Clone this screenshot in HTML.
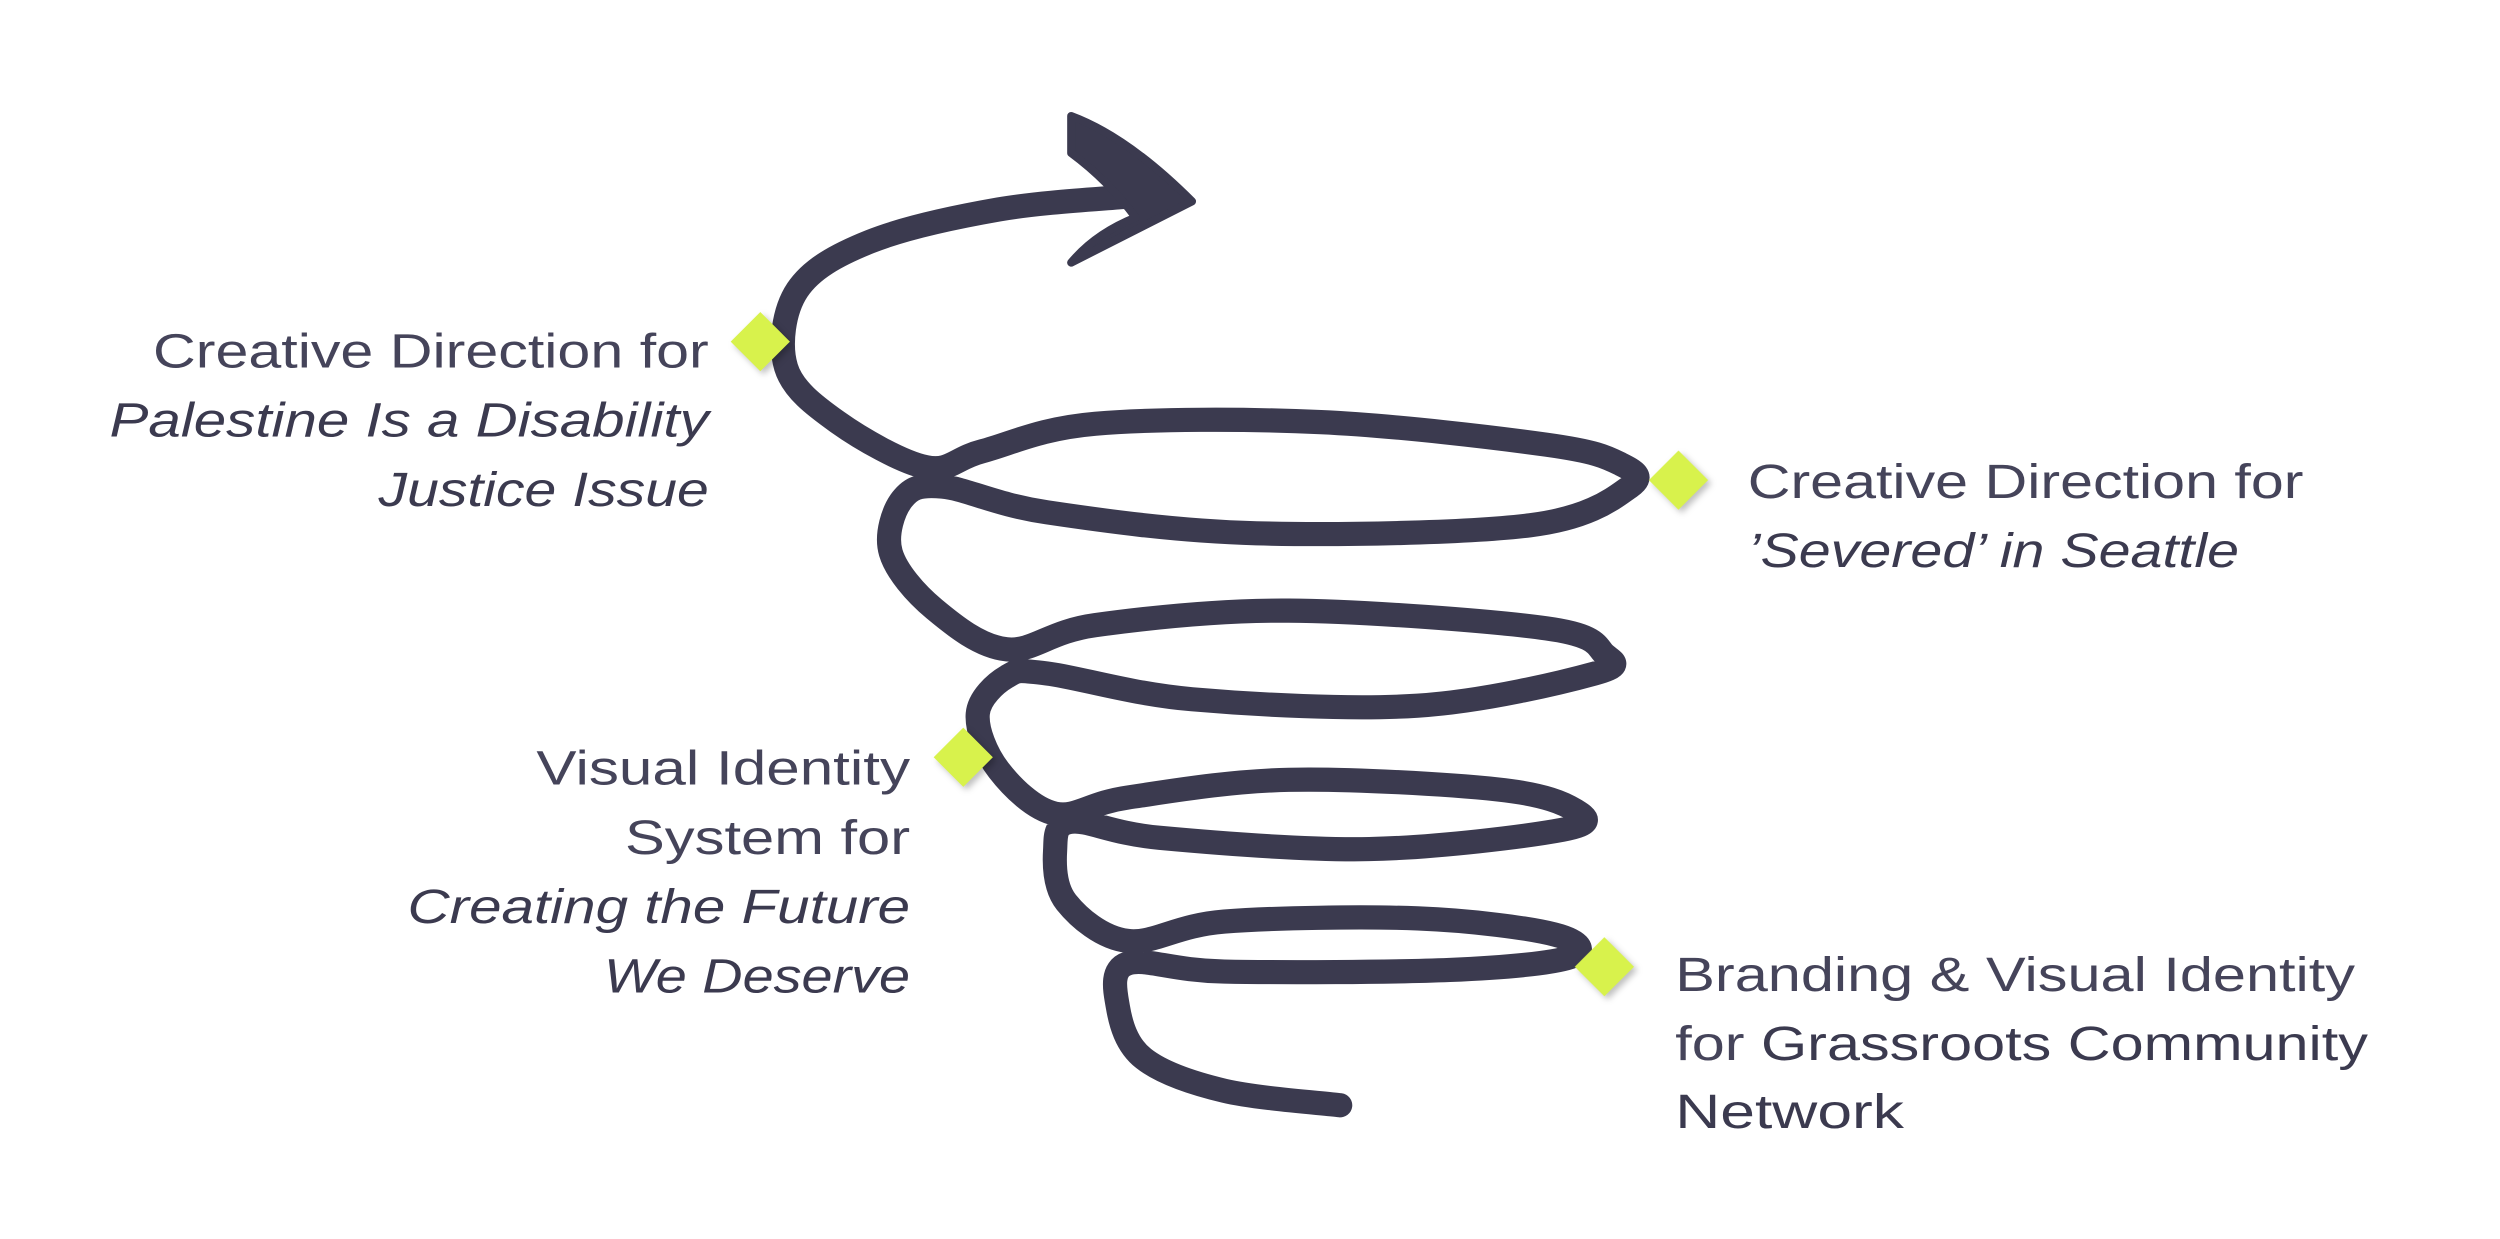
<!DOCTYPE html>
<html><head><meta charset="utf-8"><style>
html,body{margin:0;padding:0;background:#fff;}
svg{display:block;}
text{font-family:"Liberation Sans",sans-serif;fill:#3b3a4f;font-size:30px;}
.l{font-weight:300;fill:#45445a;}
.i{font-style:italic;}
</style></head><body>
<svg width="2500" height="1239" viewBox="0 0 1552 769" preserveAspectRatio="none" xmlns="http://www.w3.org/2000/svg">
<path id="sp" fill="none" stroke="#3b3a4f" stroke-width="15" stroke-linecap="round" stroke-linejoin="round" d=""/>
<path d="M665,72 Q700,85 740,125 L665,163 Q680,145 705,135 Q688,112 665,95 Z" fill="#3b3a4f" stroke="#3b3a4f" stroke-width="5" stroke-linejoin="round"/>
<g fill="#d8f24c" style="filter:drop-shadow(2px 2px 2px rgba(0,0,0,0.25))">
<rect x="459" y="199" width="26" height="26" transform="rotate(45 472 212)"/>
<rect x="1029" y="285" width="26" height="26" transform="rotate(45 1042 298)"/>
<rect x="585" y="457" width="26" height="26" transform="rotate(45 598 470)"/>
<rect x="983" y="587" width="26" height="26" transform="rotate(45 996 600)"/>
</g>
<g text-anchor="end" lengthAdjust="spacingAndGlyphs">
<text x="440" y="228" class="l" textLength="345" lengthAdjust="spacingAndGlyphs">Creative Direction for</text>
<text x="440" y="271" class="i" textLength="372" lengthAdjust="spacingAndGlyphs">Palestine Is a Disability</text>
<text x="440" y="314" class="i" textLength="205" lengthAdjust="spacingAndGlyphs">Justice Issue</text>
<text x="565" y="487" class="l" textLength="232" lengthAdjust="spacingAndGlyphs">Visual Identity</text>
<text x="565" y="530" class="l" textLength="177" lengthAdjust="spacingAndGlyphs">System for</text>
<text x="565" y="573" class="i" textLength="312" lengthAdjust="spacingAndGlyphs">Creating the Future</text>
<text x="565" y="616" class="i" textLength="190" lengthAdjust="spacingAndGlyphs">We Deserve</text>
</g>
<text x="1085" y="309" class="l" textLength="345" lengthAdjust="spacingAndGlyphs">Creative Direction for</text>
<text x="1085" y="352" class="i" textLength="305" lengthAdjust="spacingAndGlyphs">’Severed’ in Seattle</text>
<text x="1040" y="615" class="l" textLength="422" lengthAdjust="spacingAndGlyphs">Branding &amp; Visual Identity</text>
<text x="1040" y="658" textLength="430" lengthAdjust="spacingAndGlyphs"><tspan class="l">for </tspan>Grassroots Community</text>
<text x="1040" y="700" textLength="142" lengthAdjust="spacingAndGlyphs">Network</text>
</svg>
<script>
var p=[[832,686],[760,677],[710,657],[694,625],[700,598],[760,603],[900,602],[975,594],[965,580],[880,570],[760,572],[700,584],[662,560],[655,528],[665,510],[720,520],[850,527],[970,515],[978,503],[930,490],[800,484],[700,495],[655,505],[620,478],[607,443],[625,420],[650,418],[740,434],[880,438],[990,418],[996,406],[960,390],[800,379],[680,388],[625,403],[580,378],[553,343],[560,310],[585,302],[650,318],[780,331],[950,326],[1012,302],[1006,288],[960,276],[820,262],[680,263],[610,280],[575,290],[520,262],[488,228],[495,180],[540,150],[620,130],[700,122]];
function cr(pts){var d="M"+pts[0][0]+","+pts[0][1];for(var i=0;i<pts.length-1;i++){var p0=pts[i-1]||pts[i],p1=pts[i],p2=pts[i+1],p3=pts[i+2]||p2;
var c1=[p1[0]+(p2[0]-p0[0])/6,p1[1]+(p2[1]-p0[1])/6],c2=[p2[0]-(p3[0]-p1[0])/6,p2[1]-(p3[1]-p1[1])/6];
d+=" C"+c1.join(",")+" "+c2.join(",")+" "+p2.join(",");}return d;}
document.getElementById("sp").setAttribute("d",cr(p));
</script>
</body></html>
